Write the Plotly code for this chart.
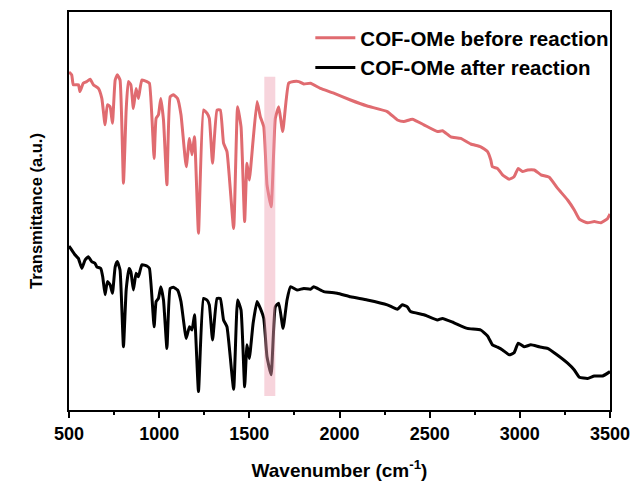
import plotly.graph_objects as go

# FT-IR spectra of COF-OMe (transmittance, arbitrary units, curves offset)
wn_before = [500, 515, 524, 552, 561, 579, 598, 617, 635, 663, 682, 700, 713, 728, 741, 756, 768, 783,
             802, 817, 829, 843, 857, 872, 885, 904, 932, 946, 972, 983, 996, 1009, 1024, 1043, 1061,
             1079, 1102, 1121, 1150, 1168, 1182, 1196, 1218, 1246, 1265, 1278, 1296, 1321, 1339, 1357,
             1376, 1413, 1435, 1454, 1474, 1487, 1500, 1521, 1543, 1561, 1580, 1598, 1621, 1644, 1663,
             1685, 1718, 1746, 1774, 1802, 1839, 1894, 1968, 2061, 2154, 2265, 2321, 2357, 2404, 2468,
             2543, 2571, 2617, 2672, 2728, 2783, 2821, 2839, 2848, 2876, 2904, 2941, 2968, 2991, 3015,
             3043, 3080, 3117, 3163, 3210, 3265, 3302, 3330, 3376, 3413, 3450, 3487, 3500]
t_before = [84.5, 83.8, 81.3, 81.3, 79.6, 81.7, 82.1, 82.7, 81.3, 80.4, 77.9, 71.3, 76.3, 75.8, 71.7, 82.5,
            83.8, 82.5, 56.7, 75.0, 82.1, 81.3, 75.4, 80.4, 77.9, 82.5, 82.1, 81.7, 62.9, 72.9, 73.8,
            77.9, 72.5, 56.3, 78.3, 78.8, 77.9, 73.8, 60.8, 67.9, 63.8, 68.3, 44.2, 75.0, 74.2, 72.9,
            61.7, 75.0, 75.0, 66.7, 64.6, 45.4, 75.8, 70.8, 47.1, 61.7, 57.5, 67.5, 77.1, 73.3, 70.8,
            56.3, 50.8, 72.9, 75.8, 69.6, 81.7, 82.1, 82.1, 81.5, 81.7, 80.4, 79.2, 77.5, 76.0, 74.6,
            72.5, 72.1, 72.7, 71.3, 69.6, 69.8, 68.3, 67.9, 66.5, 65.8, 64.6, 62.5, 60.8, 60.4, 58.8,
            57.7, 58.3, 60.4, 59.6, 60.0, 60.0, 58.8, 58.2, 55.4, 52.5, 50.0, 47.7, 46.8, 47.1, 46.8,
            47.9, 49.0]

wn_after = [500, 509, 533, 552, 571, 589, 607, 626, 644, 654, 676, 687, 700, 713, 728, 741, 756, 768, 783,
            802, 817, 833, 843, 857, 872, 885, 904, 932, 946, 972, 983, 996, 1009, 1024, 1043, 1061,
            1079, 1102, 1121, 1150, 1168, 1182, 1196, 1218, 1246, 1265, 1278, 1296, 1321, 1339, 1357,
            1376, 1413, 1435, 1454, 1474, 1487, 1500, 1521, 1543, 1561, 1580, 1598, 1621, 1644, 1663,
            1687, 1709, 1728, 1765, 1802, 1839, 1857, 1913, 1987, 2061, 2154, 2265, 2321, 2348, 2376,
            2394, 2468, 2543, 2571, 2635, 2709, 2783, 2821, 2848, 2876, 2904, 2941, 2968, 2991, 3024,
            3061, 3108, 3154, 3200, 3265, 3302, 3330, 3376, 3413, 3459, 3500]
t_after = [41.0, 40.4, 38.8, 37.9, 35.4, 37.5, 38.3, 37.1, 36.7, 35.8, 35.4, 33.3, 28.8, 32.1, 31.3, 29.2,
           35.8, 37.1, 35.0, 15.8, 30.0, 35.4, 34.6, 30.0, 34.2, 33.3, 36.3, 36.0, 35.4, 20.8, 27.1,
           27.9, 30.8, 27.5, 15.4, 30.4, 30.7, 30.0, 27.1, 17.9, 20.8, 20.0, 23.8, 4.6, 27.9, 27.5,
           26.3, 17.5, 27.9, 27.9, 22.5, 20.8, 5.2, 27.5, 25.0, 5.8, 16.3, 12.9, 21.7, 27.1, 25.4,
           22.9, 13.3, 8.8, 25.8, 26.7, 20.4, 27.5, 30.8, 30.0, 30.4, 30.2, 30.8, 29.6, 29.2, 28.3,
           27.5, 26.3, 25.2, 26.3, 25.8, 24.6, 23.8, 22.5, 22.9, 21.8, 20.4, 20.0, 18.5, 16.3, 15.7,
           15.0, 13.8, 14.3, 16.7, 15.8, 16.3, 15.8, 15.4, 14.0, 11.7, 10.0, 8.2, 7.9, 8.5, 8.5, 9.6]

# highlighted C=N stretching region
band_lo, band_hi = 1583, 1644
band_bottom, band_top = 3.5, 83.3

x_ticks = [500, 1000, 1500, 2000, 2500, 3000, 3500]

fig = go.Figure()
fig.add_trace(go.Scatter(x=wn_before, y=t_before, mode="lines", name="COF-OMe before reaction",
                         line=dict(color="#e06b70", width=3, shape="spline", smoothing=0.4)))
fig.add_trace(go.Scatter(x=wn_after, y=t_after, mode="lines", name="COF-OMe after reaction",
                         line=dict(color="#000000", width=3, shape="spline", smoothing=0.4)))
# translucent band laid over the spectra
fig.add_shape(type="rect", xref="x", yref="y", x0=band_lo, x1=band_hi, y0=band_bottom, y1=band_top,
              fillcolor="rgba(238,160,178,0.45)", line_width=0, layer="above")

font_family = "Liberation Sans, Arial, sans-serif"
fig.update_layout(
    width=644, height=481,
    margin=dict(l=69, r=34, t=12, b=71, autoexpand=False),
    paper_bgcolor="white", plot_bgcolor="white",
    font=dict(family=font_family, color="black"),
    showlegend=True,
    legend=dict(x=1.008, y=0.985, xanchor="right", yanchor="top", bgcolor="rgba(0,0,0,0)",
                font=dict(size=20.5, family=font_family, weight="bold"), tracegroupgap=0,
                itemwidth=40),
    xaxis=dict(range=[500, 3500], tickvals=x_ticks, ticktext=[str(v) for v in x_ticks],
               ticks="outside", ticklen=6, tickwidth=2, tickcolor="black",
               minor=dict(dtick=250, tick0=500, ticks="outside", ticklen=3, tickwidth=2, tickcolor="black"),
               showline=True, linewidth=2, linecolor="black", mirror=True, showgrid=False, zeroline=False,
               tickfont=dict(size=18, weight="bold"), automargin=False,
               title=dict(text="Wavenumber (cm<sup>-1</sup>)", font=dict(size=19, weight="bold"), standoff=22)),
    yaxis=dict(range=[0, 99.5], showticklabels=False, ticks="", showline=True, linewidth=2,
               linecolor="black", mirror=True, showgrid=False, zeroline=False, automargin=False,
               title=dict(text="Transmittance (a.u.)", font=dict(size=16.5, weight="bold"), standoff=20)),
)

fig.write_html("out.html")
